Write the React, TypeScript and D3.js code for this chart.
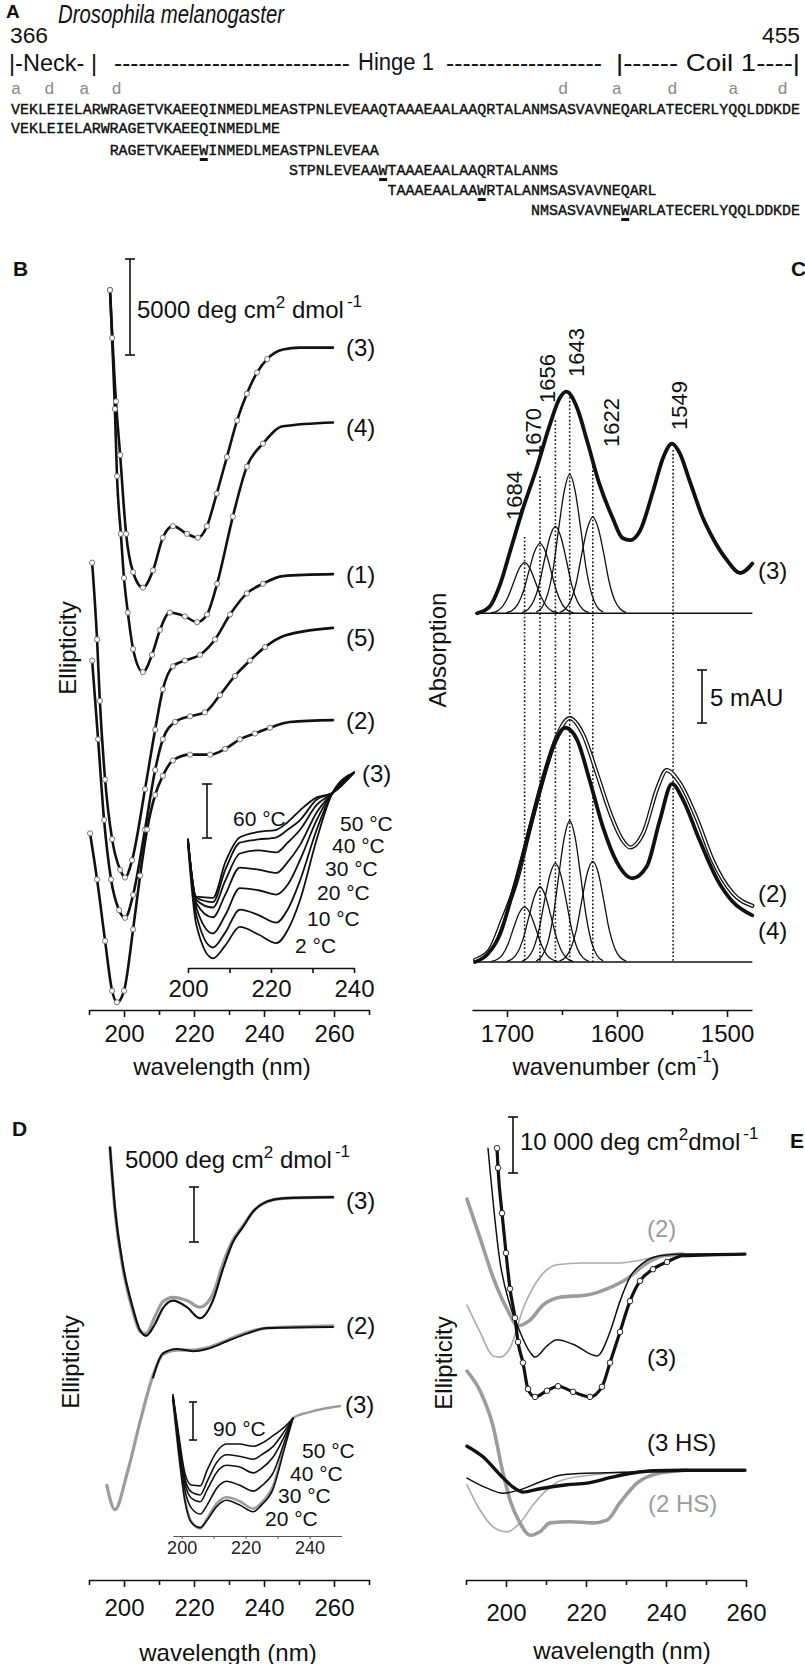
import React, { useEffect, useRef } from "react";
import * as d3 from "d3";

// ================= DATA =================
// ---- Panel A ----
const sequence = "VEKLEIELARWRAGETVKAEEQINMEDLMEASTPNLEVEAAQTAAAEAALAAQRTALANMSASVAVNEQARLATECERLYQQLDDKDE";
const peptides = [
  "VEKLEIELARWRAGETVKAEEQINMEDLME",
  "RAGETVKAEEWINMEDLMEASTPNLEVEAA",
  "STPNLEVEAAWTAAAEAALAAQRTALANMS",
  "TAAAEAALAAWRTALANMSASVAVNEQARL",
  "NMSASVAVNEWARLATECERLYQQLDDKDE",
];
const peptideStart = [0, 11, 31, 42, 58];
const peptideTrp = [-1, 10, 10, 10, 10];
const heptadLeft = ["a", "d", "a", "d"];
const heptadLeftCol = [0, 3.7, 7.6, 11.2];
const heptadRight = ["d", "a", "d", "a", "d"];
const heptadRightCol = [61, 67, 73.2, 80, 85.5];

// ---- Panel B (ellipticity, 10^3 deg cm2 dmol-1, stacked) ----
const bWl3 = [196.0, 197.7, 198.9, 200.6, 202.6, 205.4, 208.3, 211.1, 214.0, 218.0, 221.1, 223.7, 226.5, 229.4, 232.3, 235.1, 238.0, 240.9, 245.4, 250.3, 259.7];
const bEll3 = [37.5, 31.7, 28.9, 24.8, 22.8, 22.0, 22.9, 24.6, 25.2, 24.8, 24.6, 25.2, 26.9, 28.8, 30.7, 32.1, 33.2, 33.9, 34.4, 34.5, 34.5];
const bWl4 = [196.0, 196.6, 197.4, 198.0, 199.1, 200.0, 201.1, 202.6, 205.4, 208.0, 210.3, 213.1, 217.4, 220.9, 223.7, 226.6, 231.1, 235.1, 239.7, 245.4, 259.7];
const bEll4 = [37.5, 35.0, 31.3, 27.8, 24.8, 22.5, 20.7, 18.8, 17.6, 18.5, 19.8, 20.7, 20.5, 20.2, 20.6, 22.2, 25.7, 28.3, 29.5, 30.4, 30.6];
const bWl1 = [190.9, 192.3, 193.1, 194.6, 196.6, 198.9, 200.3, 202.3, 206.0, 208.9, 211.1, 214.0, 217.4, 221.7, 226.0, 230.3, 235.1, 239.7, 245.4, 259.7];
const bEll1 = [23.3, 19.3, 16.1, 12.0, 8.9, 7.3, 6.9, 7.8, 11.5, 14.6, 16.7, 17.9, 18.2, 18.5, 19.3, 20.6, 21.7, 22.2, 22.6, 22.7];
const bWl5 = [190.9, 192.6, 194.3, 196.3, 198.6, 200.3, 202.6, 206.0, 208.9, 211.1, 214.6, 218.9, 223.1, 227.4, 231.7, 236.0, 240.3, 246.0, 259.7];
const bEll5 = [18.2, 14.1, 9.9, 6.8, 5.2, 4.8, 6.0, 9.4, 12.5, 14.1, 15.0, 15.3, 15.5, 16.4, 17.4, 18.2, 18.9, 19.5, 19.9];
const bWl2 = [190.3, 192.3, 194.6, 196.6, 198.0, 200.0, 202.6, 204.6, 206.6, 208.9, 211.1, 214.0, 218.9, 224.6, 228.9, 233.1, 237.4, 241.7, 247.4, 259.7];
const bEll2 = [9.2, 6.8, 3.6, 1.0, 0.4, 1.0, 4.2, 7.0, 9.4, 11.2, 12.2, 13.0, 13.3, 13.3, 13.6, 14.1, 14.4, 14.7, 15.0, 15.1];
const bLabels = ["(3)", "(4)", "(1)", "(5)", "(2)"];
const bMajorTicks = [200, 220, 240, 260];
const bMinorTicks = [190, 210, 230, 250, 270];

// Panel B inset: temperature series of peptide (3)
const biWl = [200, 202, 206, 209, 212.5, 217, 221.3, 224, 227, 231, 234.8, 240];
const biTemps = ["2 °C", "10 °C", "20 °C", "30 °C", "40 °C", "50 °C", "60 °C"];
const bi2 = [11.4, 4.0, 0.9, 2.1, 3.8, 3.1, 2.3, 3.5, 6.3, 11.9, 16.2, 18.1];
const bi10 = [11.6, 4.9, 1.9, 3.3, 5.4, 4.9, 4.2, 5.4, 8.1, 12.8, 16.2, 18.1];
const bi20 = [11.7, 5.6, 3.2, 4.9, 7.4, 7.2, 6.8, 7.7, 10.0, 13.7, 16.2, 18.1];
const bi30 = [11.8, 6.0, 4.7, 6.8, 9.3, 9.1, 8.8, 9.8, 11.4, 14.4, 16.2, 18.1];
const bi40 = [11.9, 6.3, 5.6, 8.1, 10.6, 10.9, 10.7, 11.6, 12.8, 15.1, 16.2, 18.1];
const bi50 = [11.9, 6.5, 6.1, 9.1, 11.6, 11.9, 12.1, 12.8, 13.7, 15.6, 16.2, 18.1];
const bi60 = [11.9, 6.6, 6.5, 9.8, 12.1, 12.6, 12.8, 13.5, 14.6, 15.8, 16.2, 18.1];
const biMajorTicks = [200, 220, 240];
const biMinorTicks = [210, 230];

// ---- Panel C (absorption, mAU) ----
const cUpperOffset = 32.9;
const cWn3 = [1727, 1716, 1706, 1697, 1686, 1673, 1661, 1652, 1646, 1636, 1627, 1616, 1604, 1595, 1588, 1579, 1567, 1558, 1550, 1543, 1534, 1522, 1513, 1500, 1488, 1477];
const cAbs3 = [0, 0.6, 2.8, 5.9, 9.7, 13.7, 17.8, 20.3, 20.9, 19.3, 16.2, 12.2, 9.0, 7.1, 6.9, 7.8, 11.6, 14.7, 16.0, 15.1, 12.5, 9.0, 7.1, 5.0, 3.8, 4.7];
const cWn4 = [1729, 1718, 1706, 1695, 1682, 1670, 1658, 1647, 1636, 1625, 1613, 1600, 1586, 1573, 1561, 1550, 1540, 1525, 1509, 1495, 1477];
const cAbs4 = [0, 0.7, 2.7, 6.5, 11.5, 16.2, 20.3, 22.1, 20.9, 17.2, 12.8, 9.4, 7.9, 9.0, 13.4, 16.8, 15.3, 11.5, 7.8, 5.7, 4.4];
const cWn2 = [1729, 1716, 1704, 1691, 1679, 1667, 1655, 1643, 1631, 1618, 1606, 1595, 1588, 1576, 1563, 1555, 1543, 1527, 1513, 1495, 1477];
const cAbs2 = [0.2, 1.1, 4.0, 7.7, 12.7, 17.4, 21.2, 23.0, 21.5, 17.7, 14.0, 11.5, 10.8, 12.2, 16.5, 18.1, 16.9, 13.4, 9.6, 6.5, 5.3];
const bandWn1684 = [1714, 1709, 1704, 1699, 1694, 1689, 1684, 1679, 1674, 1669, 1664, 1659, 1654];
const bandWn1670 = [1700, 1695, 1690, 1685, 1680, 1675, 1670, 1665, 1660, 1655, 1650, 1645, 1640];
const bandWn1656 = [1686, 1681, 1676, 1671, 1666, 1661, 1656, 1651, 1646, 1641, 1636, 1631, 1626];
const bandWn1643 = [1673, 1668, 1663, 1658, 1653, 1648, 1643, 1638, 1633, 1628, 1623, 1618, 1613];
const bandWn1622 = [1652, 1647, 1642, 1637, 1632, 1627, 1622, 1617, 1612, 1607, 1602, 1597, 1592];
const upper1684 = [0.05, 0.2, 0.65, 1.55, 2.9, 4.2, 4.8, 4.2, 2.9, 1.55, 0.65, 0.2, 0.05];
const upper1670 = [0.07, 0.29, 0.89, 2.1, 4.0, 5.8, 6.6, 5.8, 4.0, 2.1, 0.89, 0.29, 0.07];
const upper1656 = [0.08, 0.36, 1.1, 2.6, 5.0, 7.2, 8.2, 7.2, 5.0, 2.6, 1.1, 0.36, 0.08];
const upper1643 = [0.13, 0.58, 1.8, 4.2, 8.0, 11.5, 13.1, 11.5, 8.0, 4.2, 1.8, 0.58, 0.13];
const upper1622 = [0.09, 0.4, 1.2, 2.9, 5.6, 8.0, 9.1, 8.0, 5.6, 2.9, 1.2, 0.4, 0.09];
const lower1684 = [0.05, 0.23, 0.7, 1.7, 3.2, 4.6, 5.2, 4.6, 3.2, 1.7, 0.7, 0.23, 0.05];
const lower1670 = [0.07, 0.31, 0.96, 2.3, 4.3, 6.2, 7.1, 6.2, 4.3, 2.3, 0.96, 0.31, 0.07];
const lower1656 = [0.09, 0.41, 1.26, 3.0, 5.7, 8.2, 9.3, 8.2, 5.7, 3.0, 1.26, 0.41, 0.09];
const lower1643 = [0.13, 0.59, 1.8, 4.3, 8.1, 11.7, 13.3, 11.7, 8.1, 4.3, 1.8, 0.59, 0.13];
const lower1622 = [0.1, 0.42, 1.28, 3.0, 5.8, 8.4, 9.5, 8.4, 5.8, 3.0, 1.28, 0.42, 0.1];
const markerWn = [1684, 1670, 1656, 1643, 1622, 1549];
const markerTop = [40.1, 45.8, 51.1, 53.3, 47.1, 48.3];
const cMajorTicks = [1700, 1600, 1500];
const cMinorTicks = [1650, 1550];

// ---- Panel D ----
const dWl3 = [196.0, 197.4, 199.7, 202.3, 204.6, 206.3, 208.9, 211.1, 214.0, 218.0, 221.7, 225.4, 228.3, 231.1, 234.0, 236.9, 240.9, 245.4, 259.7];
const dBlack3 = [39.3, 33.9, 28.6, 25.0, 22.7, 22.2, 23.3, 24.7, 25.4, 24.8, 23.8, 25.4, 28.3, 30.7, 32.1, 33.5, 34.4, 34.7, 34.8];
const dGray3 = [39.3, 33.6, 28.3, 24.7, 22.6, 22.4, 24.0, 25.3, 25.7, 25.4, 24.8, 26.0, 28.8, 30.9, 32.2, 33.5, 34.4, 34.7, 34.8];
const dWl2 = [195.1, 197.4, 200.9, 204.6, 208.3, 211.1, 215.1, 219.7, 223.7, 229.4, 235.1, 240.9, 259.7];
const dGray2 = [8.6, 6.4, 9.7, 14.4, 18.6, 20.5, 20.9, 20.9, 21.1, 21.8, 22.5, 22.9, 23.1];
const dBlackWl2 = [208.3, 211.1, 215.1, 219.7, 223.7, 229.4, 235.1, 240.9, 259.7];
const dBlack2 = [18.4, 20.6, 21.0, 20.8, 21.0, 21.7, 22.4, 22.9, 23.0];
// D inset
const diWl = [197.3, 199, 201, 203, 205.8, 208, 211, 214, 218, 222.4, 225, 228.6, 232, 234.8];
const diTemps = ["20 °C", "30 °C", "40 °C", "50 °C", "90 °C"];
const di20 = [17.9, 11.3, 4.7, 1.8, 1.1, 2.1, 3.9, 4.7, 4.1, 3.2, 4.1, 6.2, 11.3, 15.5];
const di30 = [18.2, 12.0, 6.1, 3.7, 2.9, 4.1, 6.3, 7.2, 6.7, 5.9, 6.6, 8.3, 12.2, 15.5];
const di40 = [18.3, 12.6, 7.0, 5.0, 4.5, 6.1, 8.4, 9.3, 9.1, 8.3, 8.9, 10.4, 13.0, 15.5];
const di50 = [18.4, 13.0, 7.6, 5.8, 5.4, 7.2, 9.7, 10.7, 10.5, 10.1, 10.7, 11.8, 13.7, 15.5];
const di90 = [18.6, 13.6, 8.3, 6.7, 6.6, 8.7, 11.1, 12.1, 12.1, 11.8, 12.2, 13.2, 14.3, 15.5];
const diGrayWl = [197.3, 199, 201, 203, 205.8, 208, 211, 214, 218, 222.4, 225, 228.6, 232, 234.8, 240, 249.5];
const diGray20 = [17.9, 11.3, 4.9, 1.9, 1.0, 2.3, 4.3, 5.1, 4.6, 3.6, 4.4, 6.6, 11.6, 15.5, 16.3, 17.1];
const diMajorTicks = [200, 220, 240];
const diMinorTicks = [210, 230];

// ---- Panel E ----
const eWlThick3 = [197.75, 198, 199, 200, 201, 202.25, 203, 204.25, 205.5, 207.25, 210.25, 213, 216.75, 221, 224, 226, 228.5, 231, 233.5, 236.75, 240.25, 244.25, 259.75];
const eThick3 = [77.1, 73.6, 65.5, 58.4, 52.0, 46.8, 42.5, 38.8, 34.1, 32.7, 33.8, 34.6, 33.6, 32.7, 34.5, 38.8, 44.3, 49.8, 53.4, 55.5, 56.8, 57.9, 58.2];
const eWlThin3 = [195.5, 198.5, 201, 203.5, 206, 207.25, 210.25, 212.75, 216.75, 222.75, 226, 228.5, 231, 234.25, 238.5, 244.25, 259.75];
const eThin3 = [77.1, 56.8, 49.1, 44.3, 40.7, 39.8, 41.8, 42.9, 42.1, 40.0, 44.3, 49.8, 54.1, 56.6, 57.9, 58.2, 58.2];
const eWlGray2 = [190.25, 193.5, 196.75, 200.25, 203, 206, 209.25, 213.5, 220.25, 225.25, 230.25, 235.25, 239.25, 244.25];
const eGray2 = [68.0, 61.1, 54.1, 48.4, 45.4, 46.4, 49.1, 50.5, 50.9, 52.0, 53.8, 56.6, 57.9, 58.2];
const eWlGrayThin2 = [190.25, 193.5, 196.75, 198.5, 201, 204.25, 208.5, 212.75, 219.25, 227.75, 233.5, 240.25];
const eGrayThin2 = [49.1, 44.3, 40.0, 39.8, 41.4, 48.4, 54.1, 56.3, 56.6, 56.6, 57.1, 58.2];
const eWlThickHS3 = [190.25, 194.25, 198.5, 201.75, 204.25, 208.5, 215.25, 220.25, 226.75, 231.75, 236.75, 244.25, 259.75];
const eThickHS3 = [23.9, 22.0, 18.8, 16.6, 15.7, 16.3, 17.0, 17.3, 18.4, 19.1, 19.5, 19.6, 19.6];
const eWlThinHS3 = [190.25, 195.25, 199.25, 203.5, 208.5, 214.25, 221.75, 232.75, 259.75];
const eThinHS3 = [18.2, 16.4, 15.5, 16.1, 17.5, 18.8, 19.1, 19.3, 19.6];
const eWlGrayHS2 = [190.25, 193.5, 196.75, 199.25, 201, 203.5, 206, 208.5, 211, 216, 221.75, 225.25, 228.5, 232.75, 238.5, 245.25];
const eGrayHS2 = [37.3, 33.8, 27.5, 19.1, 14.3, 10.2, 8.0, 8.6, 10.2, 10.4, 10.2, 10.7, 13.8, 17.3, 19.1, 19.6];
const eWlGrayThinHS2 = [190.25, 193.5, 196.75, 200.25, 203.5, 206.75, 210.25, 214.25, 223.5, 238.5];
const eGrayThinHS2 = [17.0, 12.5, 9.5, 8.6, 10.2, 13.4, 16.1, 17.9, 18.9, 19.5];
const eMajorTicks = [200, 220, 240, 260];
const eMinorTicks = [190, 210, 230, 250];

// ================= DRAWING =================
const FONT = "'Liberation Sans', Arial, Helvetica, sans-serif";
const MONO = "'Liberation Mono', 'DejaVu Sans Mono', monospace";
const INK = "#111";
const GRAY = "#9c9c9c";

type Pt = [number, number];
const zip = (xs: number[], ys: number[]): Pt[] => xs.map((x, i) => [x, ys[i]] as Pt);

function drawLine(g: any, data: Pt[], x: any, y: any, stroke: string, width: number, dash?: string) {
  const gen = d3.line<Pt>().x((d) => x(d[0])).y((d) => y(d[1])).curve(d3.curveMonotoneX);
  const p = g.append("path").attr("d", gen(data)).attr("fill", "none").attr("stroke", stroke)
    .attr("stroke-width", width).attr("stroke-linejoin", "round").attr("stroke-linecap", "round");
  if (dash) p.attr("stroke-dasharray", dash);
  return p;
}

function drawCircles(g: any, data: Pt[], x: any, y: any, r: number, stroke: string) {
  g.append("g").selectAll("circle").data(data).join("circle")
    .attr("cx", (d: Pt) => x(d[0])).attr("cy", (d: Pt) => y(d[1])).attr("r", r)
    .attr("fill", "#fff").attr("stroke", stroke).attr("stroke-width", 0.9);
}

function text(g: any, x: number, y: number, s: string, size = 24, o: any = {}) {
  const t = g.append("text").attr("x", x).attr("y", y).attr("font-size", size)
    .attr("font-family", o.family || FONT).attr("fill", o.fill || INK)
    .attr("text-anchor", o.anchor || "start").attr("dominant-baseline", o.baseline || "central");
  if (o.weight) t.attr("font-weight", o.weight);
  if (o.style) t.attr("font-style", o.style);
  if (o.textLength) t.attr("textLength", o.textLength).attr("lengthAdjust", o.lengthAdjust || "spacingAndGlyphs");
  t.text(s);
  return t;
}

function vText(g: any, x: number, y: number, s: string, size = 24) {
  g.append("text").attr("transform", `translate(${x},${y}) rotate(-90)`).attr("text-anchor", "middle")
    .attr("dominant-baseline", "central").attr("font-size", size).attr("font-family", FONT).attr("fill", INK).text(s);
}

function unitLabel(g: any, x: number, y: number, amount: string, gap: boolean) {
  const t = g.append("text").attr("x", x).attr("y", y).attr("font-size", 24).attr("font-family", FONT).attr("fill", INK);
  t.append("tspan").text(amount + " deg cm");
  t.append("tspan").attr("dy", -10).attr("font-size", 17).text("2");
  t.append("tspan").attr("dy", 10).text(gap ? " dmol" : "dmol");
  t.append("tspan").attr("dy", -11).attr("font-size", 17).attr("dx", 3).text("-1");
}

function scaleBar(g: any, x: number, yTop: number, len: number, cap = 5) {
  const w = 1.6;
  g.append("line").attr("x1", x).attr("x2", x).attr("y1", yTop).attr("y2", yTop + len).attr("stroke", INK).attr("stroke-width", w);
  g.append("line").attr("x1", x - cap).attr("x2", x + cap).attr("y1", yTop).attr("y2", yTop).attr("stroke", INK).attr("stroke-width", w);
  g.append("line").attr("x1", x - cap).attr("x2", x + cap).attr("y1", yTop + len).attr("y2", yTop + len).attr("stroke", INK).attr("stroke-width", w);
}

function bottomAxis(g: any, scale: any, y: number, majors: number[], minors: number[], o: any) {
  const color = o.color || INK;
  const w = o.width || 1.6;
  const ax = g.append("g").attr("transform", `translate(0,${y})`)
    .call(d3.axisBottom(scale).tickValues(majors).tickSize(o.major ?? 7).tickPadding(o.pad).tickSizeOuter(0).tickFormat(d3.format("d")));
  ax.select(".domain").attr("stroke", color).attr("stroke-width", w);
  ax.selectAll(".tick line").attr("stroke", color).attr("stroke-width", w);
  ax.selectAll(".tick text").attr("font-size", o.size || 24).attr("font-family", FONT).attr("fill", o.textFill || INK);
  const mi = g.append("g").attr("transform", `translate(0,${y})`)
    .call(d3.axisBottom(scale).tickValues(minors).tickSize(o.minor ?? 5).tickFormat(() => "").tickSizeOuter(0));
  mi.select(".domain").remove();
  mi.selectAll(".tick line").attr("stroke", color).attr("stroke-width", w);
}

function drawPanelA(svg: any) {
  const g = svg.append("g");
  text(g, 6, 11, "A", 19, { weight: "bold" });
  text(g, 58, 14, "Drosophila melanogaster", 25, { style: "italic", textLength: 226 });
  text(g, 10, 35, "366", 22, { textLength: 38 });
  text(g, 800, 35, "455", 22, { anchor: "end", textLength: 38 });
  text(g, 9, 62, "|-Neck- |", 24, { textLength: 88 });
  text(g, 114, 62, "-----------------------------", 24, { textLength: 236 });
  text(g, 358, 62, "Hinge 1", 23, { textLength: 76 });
  text(g, 446, 62, "-------------------", 24, { textLength: 156 });
  text(g, 800, 62, "|------ Coil 1----|", 24, { anchor: "end", textLength: 184 });

  const x0 = 11, cw = 789 / sequence.length;
  heptadLeft.forEach((c, i) => text(g, x0 + heptadLeftCol[i] * cw, 89, c, 17, { family: MONO, fill: "#8a8a8a" }));
  heptadRight.forEach((c, i) => text(g, x0 + heptadRightCol[i] * cw, 89, c, 17, { family: MONO, fill: "#8a8a8a" }));
  const rowY = [110, 129, 151, 171, 191, 211];
  const mono = (s: string, col: number, y: number) =>
    g.append("text").attr("x", x0 + col * cw).attr("y", y).attr("dominant-baseline", "central")
      .attr("font-family", MONO).attr("font-size", 15).attr("fill", INK).attr("stroke", INK).attr("stroke-width", 0.4)
      .attr("textLength", s.length * cw).attr("lengthAdjust", "spacingAndGlyphs").text(s);
  mono(sequence, 0, rowY[0]);
  peptides.forEach((p, i) => {
    mono(p, peptideStart[i], rowY[i + 1]);
    if (peptideTrp[i] >= 0) {
      const c = peptideStart[i] + peptideTrp[i];
      g.append("rect").attr("x", x0 + c * cw + 0.5).attr("y", rowY[i + 1] + 7).attr("width", cw - 1).attr("height", 3).attr("fill", INK);
    }
  });
}

function drawPanelB(svg: any) {
  const g = svg.append("g");
  const x = d3.scaleLinear().domain([190, 270]).range([89, 369]);
  const y = d3.scaleLinear().domain([0, 40]).range([1010, 242]);
  text(g, 13, 268, "B", 21, { weight: "bold" });
  scaleBar(g, 130, 259, y(0) - y(5));
  unitLabel(g, 137, 318, "5000", true);

  const curves: [number[], number[]][] = [[bWl3, bEll3], [bWl4, bEll4], [bWl1, bEll1], [bWl5, bEll5], [bWl2, bEll2]];
  curves.forEach(([wl, v]) => drawLine(g, zip(wl, v), x, y, INK, 2.6));
  curves.forEach(([wl, v]) => drawCircles(g, zip(wl, v).filter((d) => d[0] <= 242), x, y, 2.6, "#666"));
  const labDy = [0, 5, 0, 10, 0];
  curves.forEach(([wl, v], i) => text(g, 346, y(v[v.length - 1]) + labDy[i], bLabels[i], 24));

  // inset
  const xi = d3.scaleLinear().domain([200, 240]).range([188, 354]);
  const yi = d3.scaleLinear().domain([0, 20]).range([968, 752]);
  const inset = [bi2, bi10, bi20, bi30, bi40, bi50, bi60];
  inset.forEach((v) => drawLine(g, zip(biWl, v), xi, yi, INK, 1.8));
  bottomAxis(g, xi, 968, biMajorTicks, biMinorTicks, { pad: 7, major: 5, minor: 5 });
  scaleBar(g, 207, 784, yi(0) - yi(5));
  const tempX = [295, 307, 317, 325, 332, 340, 233];
  const tempY = [945, 918, 892, 868, 845, 823, 818];
  biTemps.forEach((t, i) => text(g, tempX[i], tempY[i], t, 21));
  text(g, 362, 773, "(3)", 24);

  bottomAxis(g, x, 1010, bMajorTicks, bMinorTicks, { pad: 8 });
  text(g, 222, 1066, "wavelength (nm)", 24, { anchor: "middle" });
  vText(g, 67, 648, "Ellipticity");
}

function drawPanelC(svg: any) {
  const g = svg.append("g");
  const x = d3.scaleLinear().domain([1731.8, 1477.3]).range([472, 752]);
  const y = d3.scaleLinear().domain([0, 70]).range([962, 220]);
  const yU = (v: number) => y(v + cUpperOffset);
  text(g, 791, 268, "C", 21, { weight: "bold" });

  markerWn.forEach((w, i) => {
    g.append("line").attr("x1", x(w)).attr("x2", x(w)).attr("y1", y(markerTop[i])).attr("y2", y(0))
      .attr("stroke", INK).attr("stroke-width", 1.6).attr("stroke-dasharray", "1.6 2.2");
  });
  [cUpperOffset, 0].forEach((b) => g.append("line").attr("x1", x(1729)).attr("x2", x(1477)).attr("y1", y(b)).attr("y2", y(b)).attr("stroke", INK).attr("stroke-width", 1.6));

  const bandWn = [bandWn1684, bandWn1670, bandWn1656, bandWn1643, bandWn1622];
  const upperBands = [upper1684, upper1670, upper1656, upper1643, upper1622];
  const lowerBands = [lower1684, lower1670, lower1656, lower1643, lower1622];
  upperBands.forEach((a, i) => drawLine(g, zip(bandWn[i], a), x, yU, INK, 1.3));
  lowerBands.forEach((a, i) => drawLine(g, zip(bandWn[i], a), x, y, INK, 1.3));

  drawLine(g, zip(cWn3, cAbs3), x, yU, INK, 3.8);
  drawLine(g, zip(cWn2, cAbs2), x, y, INK, 4.2);
  drawLine(g, zip(cWn2, cAbs2), x, y, "#fff", 1.6);
  drawLine(g, zip(cWn4, cAbs4), x, y, INK, 3.8);

  const labelDx = [-10, -6, -8, 7, 19, 6];
  const labelBottom = [520, 457, 403, 377, 447, 430];
  markerWn.forEach((w, i) => {
    g.append("text").attr("transform", `translate(${x(w) + labelDx[i]},${labelBottom[i]}) rotate(-90)`)
      .attr("dominant-baseline", "central").attr("font-size", 22).attr("font-family", FONT).attr("fill", INK).text(String(w));
  });

  text(g, 758, 570, "(3)", 24);
  text(g, 758, 893, "(2)", 24);
  text(g, 758, 930, "(4)", 24);
  scaleBar(g, 702, 670, y(0) - y(5));
  text(g, 710, 697, "5 mAU", 24);

  bottomAxis(g, x, 1010, cMajorTicks, cMinorTicks, { pad: 8 });
  const t = g.append("text").attr("x", 616).attr("y", 1066).attr("text-anchor", "middle").attr("dominant-baseline", "central")
    .attr("font-size", 24).attr("font-family", FONT).attr("fill", INK);
  t.append("tspan").text("wavenumber (cm");
  t.append("tspan").attr("dy", -10).attr("font-size", 17).text("-1");
  t.append("tspan").attr("dy", 10).text(")");
  vText(g, 437, 650, "Absorption");
}

function drawPanelD(svg: any) {
  const g = svg.append("g");
  const x = d3.scaleLinear().domain([190, 270]).range([89, 369]);
  const y = d3.scaleLinear().domain([0, 40]).range([1580, 1140]);
  text(g, 12, 1128, "D", 21, { weight: "bold" });
  unitLabel(g, 125, 1168, "5000", true);
  scaleBar(g, 194, 1187, y(0) - y(5));

  drawLine(g, zip(dWl3, dGray3), x, y, GRAY, 3.2);
  drawLine(g, zip(dWl3, dBlack3), x, y, INK, 2.2);
  drawLine(g, zip(dWl2, dGray2), x, y, GRAY, 3.2);
  drawLine(g, zip(dBlackWl2, dBlack2), x, y, INK, 2.0);
  text(g, 346, y(dBlack3[dBlack3.length - 1]) + 3, "(3)", 24);
  text(g, 346, y(dGray2[dGray2.length - 1]), "(2)", 24);

  const xi = d3.scaleLinear().domain([197.3, 250]).range([173, 341.6]);
  const yi = d3.scaleLinear().domain([0, 20]).range([1536, 1384]);
  drawLine(g, zip(diGrayWl, diGray20), xi, yi, GRAY, 2.6);
  [di20, di30, di40, di50, di90].forEach((v) => drawLine(g, zip(diWl, v), xi, yi, INK, 1.6));
  bottomAxis(g, xi, 1536, diMajorTicks, diMinorTicks, { pad: 2, major: 3, minor: 3, size: 18, width: 1, color: "#555", textFill: "#222" });
  scaleBar(g, 193, 1402, yi(0) - yi(5), 4);
  const tX = [265, 278, 290, 302, 213];
  const tY = [1518, 1495, 1473, 1450, 1428];
  diTemps.forEach((t, i) => text(g, tX[i], tY[i], t, 21));
  text(g, 345, 1404, "(3)", 24);

  bottomAxis(g, x, 1580, bMajorTicks, bMinorTicks, { pad: 12 });
  text(g, 228, 1652, "wavelength (nm)", 24, { anchor: "middle" });
  vText(g, 70, 1362, "Ellipticity");
}

function drawPanelE(svg: any) {
  const g = svg.append("g");
  const x = d3.scaleLinear().domain([190, 260]).range([466, 746]);
  const y = d3.scaleLinear().domain([0, 80]).range([1580, 1132]);
  text(g, 790, 1140, "E", 21, { weight: "bold" });
  scaleBar(g, 513, 1117, y(0) - y(10));
  unitLabel(g, 520, 1150, "10 000", false);

  drawLine(g, zip(eWlGrayThin2, eGrayThin2), x, y, "#ababab", 1.6);
  drawLine(g, zip(eWlGray2, eGray2), x, y, GRAY, 3.6);
  drawLine(g, zip(eWlGrayThinHS2, eGrayThinHS2), x, y, "#ababab", 1.6);
  drawLine(g, zip(eWlGrayHS2, eGrayHS2), x, y, GRAY, 3.6);
  drawLine(g, zip(eWlThin3, eThin3), x, y, INK, 1.5);
  drawLine(g, zip(eWlThinHS3, eThinHS3), x, y, INK, 1.5);
  drawLine(g, zip(eWlThickHS3, eThickHS3), x, y, INK, 3.4);
  drawLine(g, zip(eWlThick3, eThick3), x, y, INK, 3.2);
  drawCircles(g, zip(eWlThick3, eThick3).filter((d) => d[0] <= 241), x, y, 2.8, INK);

  text(g, 647, 1228, "(2)", 24, { fill: GRAY });
  text(g, 647, 1357, "(3)", 24);
  text(g, 647, 1442, "(3 HS)", 24);
  text(g, 648, 1503, "(2 HS)", 24, { fill: GRAY });

  bottomAxis(g, x, 1580, eMajorTicks, eMinorTicks, { pad: 17 });
  text(g, 622, 1650, "wavelength (nm)", 24, { anchor: "middle" });
  vText(g, 443, 1363, "Ellipticity");
}

export default function App() {
  const ref = useRef<SVGSVGElement>(null);
  useEffect(() => {
    const svg = d3.select(ref.current);
    svg.selectAll("*").remove();
    svg.append("rect").attr("width", 805).attr("height", 1664).attr("fill", "#fff");
    drawPanelA(svg);
    drawPanelB(svg);
    drawPanelC(svg);
    drawPanelD(svg);
    drawPanelE(svg);
  }, []);
  return (
    <svg ref={ref} width={805} height={1664} viewBox="0 0 805 1664"
      style={{ position: "absolute", left: 0, top: 0, display: "block", background: "#fff" }} />
  );
}
